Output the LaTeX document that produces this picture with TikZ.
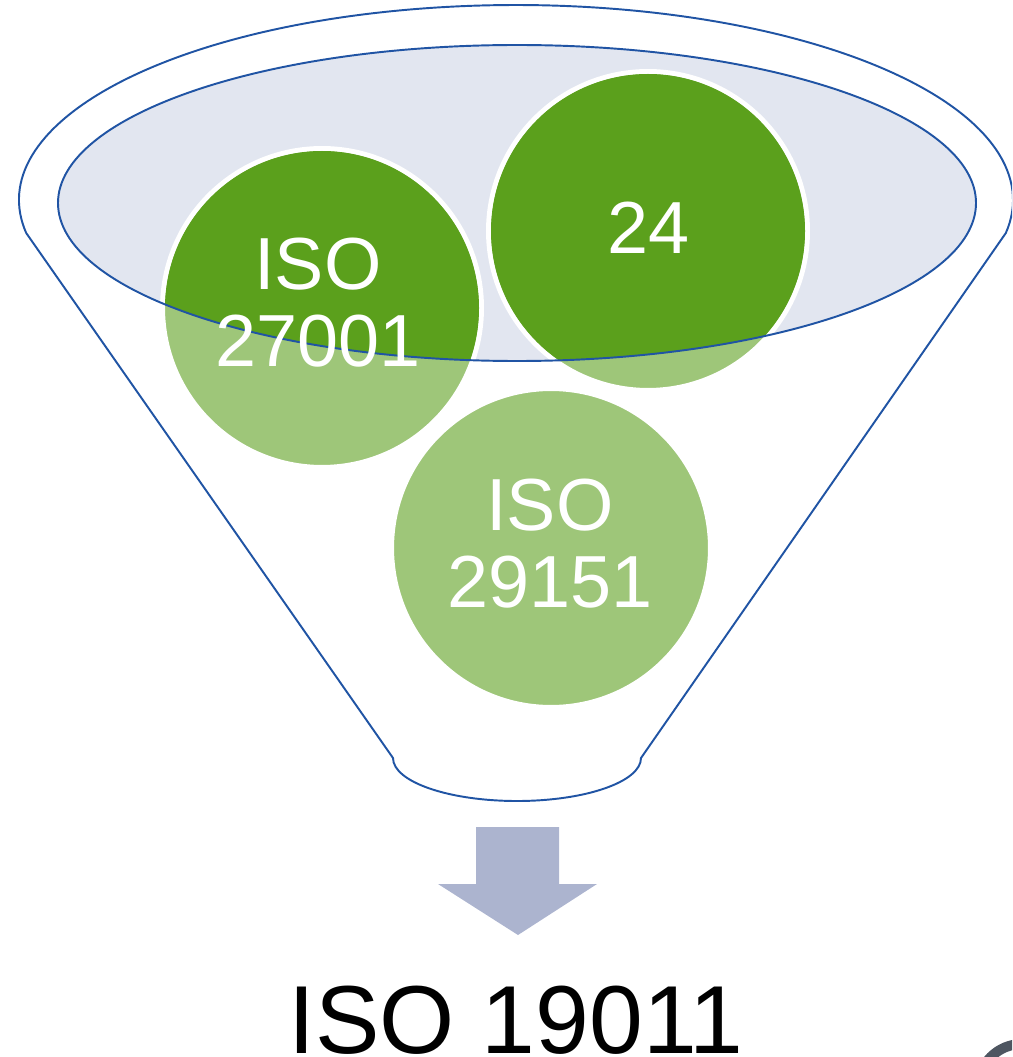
\documentclass[tikz,border=0pt]{standalone}
\usepackage{fontspec}
\setmainfont{Liberation Sans}
\definecolor{funnelblue}{RGB}{32,84,164}
\definecolor{lavender}{RGB}{226,230,240}
\definecolor{darkgreen}{RGB}{91,160,28}
\definecolor{lightgreen}{RGB}{158,198,121}
\definecolor{arrowc}{RGB}{172,180,207}
\definecolor{glyphgray}{RGB}{78,86,97}
\tikzset{
  funnelline/.style={draw=funnelblue, line width=1.1pt},
  ball/.style={circle, fill=lightgreen, draw=white, line width=0.1cm, minimum size=6.38cm, inner sep=0pt},
  balltext/.style={text=white, align=center, font=\fontsize{42}{43.8}\selectfont, inner sep=0pt},
}
\begin{document}
\begin{tikzpicture}[x=0.02cm, y=-0.02cm]
\useasboundingbox (0,0) rectangle (1012,1057);
\clip (0,0) rectangle (1012,1057);
% funnel outline
\draw[funnelline, fill=white] (26.2,233) arc[start angle=170.26, end angle=369.74, x radius=497, y radius=195]
  -- (641,758) arc[start angle=0, end angle=180, x radius=124, y radius=43] -- cycle;
% inner ellipse fill
\fill[lavender] (517,203) ellipse[x radius=459, y radius=158];
% circles
\node[ball] (c1) at (322,308) {};
\node[ball] (c2) at (648,231) {};
\node[ball] (c3) at (551,548) {};
\begin{scope}
  \clip (517,203) ellipse[x radius=459, y radius=158];
  \fill[darkgreen] (c1.center) circle[radius=157];
  \fill[darkgreen] (c2.center) circle[radius=157];
\end{scope}
\draw[funnelline] (517,203) ellipse[x radius=459, y radius=158];
% labels
\node[balltext] (t1) at (318,303) {ISO\\27001};
\node[balltext] (t2) at (649,228) {24};
\node[balltext] (t3) at (550,544) {ISO\\29151};
% arrow
\fill[arrowc] (476,827) -- (559,827) -- (559,884) -- (597,884) -- (518,935) -- (438,884) -- (476,884) -- cycle;
% result
\node[anchor=base, inner sep=0pt, font=\fontsize{55}{60}\selectfont] (res) at (516,1053) {ISO 19011};
% partial glyph at corner
\draw[glyphgray, line width=0.2cm] (1022,1088) circle[radius=44];
\end{tikzpicture}
\end{document}
